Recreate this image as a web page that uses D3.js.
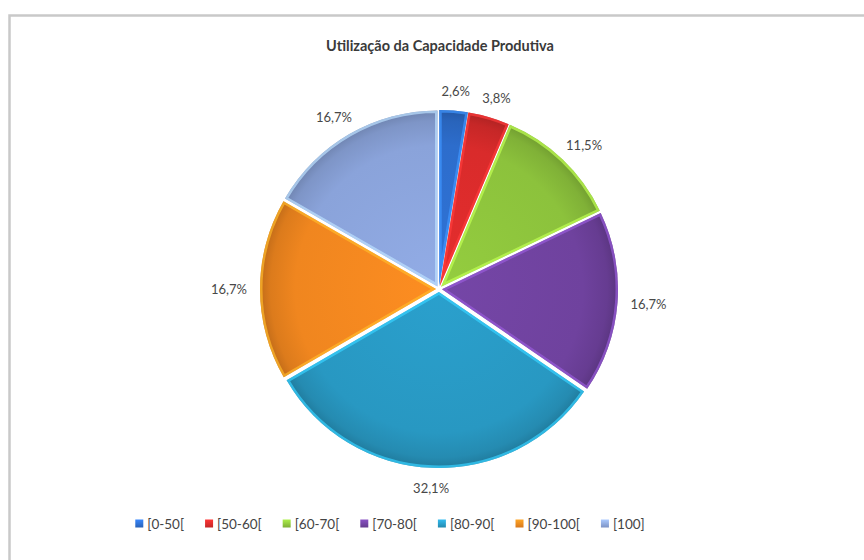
<!DOCTYPE html>
<html>
<head>
<meta charset="utf-8">
<script src="https://cdn.jsdelivr.net/npm/d3@7/dist/d3.min.js"></script>
<style>
  body { margin: 0; background: #fff; }
  svg { display: block; }
</style>
</head>
<body>
<svg id="chart" width="864" height="560"></svg>
<script>
// Capacity-utilisation bands and the share of companies in each band (%)
const categories = ["[0-50[", "[50-60[", "[60-70[", "[70-80[", "[80-90[", "[90-100[", "[100]"];
const shares = [2.6, 3.8, 11.5, 16.7, 32.1, 16.7, 16.7];
const sliceColors = ["#2d6dcc", "#d92b2b", "#8cc23c", "#6f429e", "#2898c2", "#f0861f", "#8aa3da"];
const chartTitle = "Utilização da Capacidade Produtiva";

const W = 864, H = 560;
const cx = 439, cy = 289, R = 176, explode = 3;
const fontFamily = "Lato, 'Open Sans', 'DejaVu Sans', sans-serif";

const svg = d3.select("#chart");
const defs = svg.append("defs");

// outer frame of the chart area
svg.append("rect")
  .attr("x", 9.5).attr("y", 15.5)
  .attr("width", W + 20).attr("height", H + 20)
  .attr("fill", "#fff")
  .attr("stroke", "#c9c9c9").attr("stroke-width", 2.5);

// title
svg.append("text")
  .attr("x", 440).attr("y", 51)
  .attr("text-anchor", "middle")
  .attr("font-family", fontFamily)
  .attr("font-weight", "bold")
  .attr("font-size", 14.5)
  .attr("fill", "#3a3a3a")
  .text(chartTitle);

const fmt = v => d3.format(".1f")(v).replace(".", ",") + "%";

const pie = d3.pie().sort(null).value(d => d)(shares);
const arc = d3.arc().innerRadius(0).outerRadius(R);

// per-slice gradients: brighter body, darker rim
sliceColors.forEach((c, i) => {
  const g = defs.append("radialGradient")
    .attr("id", "grad" + i)
    .attr("gradientUnits", "userSpaceOnUse")
    .attr("cx", 0).attr("cy", 0).attr("r", R);
  const base = d3.color(c);
  g.append("stop").attr("offset", "0%").attr("stop-color", base.brighter(0.15));
  g.append("stop").attr("offset", "80%").attr("stop-color", base);
  g.append("stop").attr("offset", "94%").attr("stop-color", base.darker(0.25));
  g.append("stop").attr("offset", "100%").attr("stop-color", base.darker(0.6));
});

const pieG = svg.append("g").attr("transform", `translate(${cx},${cy})`);

const slices = pieG.selectAll("g.slice")
  .data(pie)
  .join("g")
  .attr("class", "slice")
  .attr("transform", d => {
    const a = (d.startAngle + d.endAngle) / 2;
    return `translate(${Math.sin(a) * explode},${-Math.cos(a) * explode})`;
  });

slices.each(function (d, i) {
  const g = d3.select(this);
  const clipId = "clip" + i;
  defs.append("clipPath").attr("id", clipId)
    .append("path").attr("d", arc(d));
  g.append("path")
    .attr("d", arc(d))
    .attr("fill", `url(#grad${i})`);
  // bevel highlight along the slice edges
  g.append("path")
    .attr("d", arc(d))
    .attr("fill", "none")
    .attr("stroke", d3.color(sliceColors[i]).brighter(0.9))
    .attr("stroke-width", 5)
    .attr("stroke-opacity", 0.7)
    .attr("clip-path", `url(#${clipId})`);
});

// data labels just outside each slice
const labelPad = 13;
pieG.selectAll("text.lbl")
  .data(pie)
  .join("text")
  .attr("class", "lbl")
  .attr("font-family", fontFamily)
  .attr("font-size", 13)
  .attr("fill", "#484848")
  .attr("text-anchor", "middle")
  .attr("dominant-baseline", "central")
  .text(d => fmt(d.data))
  .each(function (d) {
    const a = (d.startAngle + d.endAngle) / 2;
    const ux = Math.sin(a), uy = -Math.cos(a);
    const w = this.getComputedTextLength(), h = 14;
    const r = R + explode + labelPad;
    d3.select(this)
      .attr("x", ux * r + ux * w / 2)
      .attr("y", uy * r + uy * h / 2);
  });

// legend along the bottom
const legend = svg.append("g");
const items = legend.selectAll("g.item")
  .data(categories)
  .join("g")
  .attr("class", "item");

items.each(function (c, i) {
  const g = d3.select(this);
  const gid = "lg" + i;
  const lg = defs.append("linearGradient").attr("id", gid)
    .attr("x1", 0).attr("y1", 0).attr("x2", 0).attr("y2", 1);
  lg.append("stop").attr("offset", "0%").attr("stop-color", d3.color(sliceColors[i]).brighter(0.6));
  lg.append("stop").attr("offset", "100%").attr("stop-color", d3.color(sliceColors[i]).darker(0.3));
  g.append("rect")
    .attr("x", 0).attr("y", -4.5)
    .attr("width", 8).attr("height", 8)
    .attr("fill", `url(#${gid})`);
  g.append("text")
    .attr("x", 12).attr("y", 0)
    .attr("dominant-baseline", "central")
    .attr("font-family", fontFamily)
    .attr("font-size", 13.5)
    .attr("fill", "#444")
    .text(c);
});

let xPos = 0;
const gap = 21;
items.each(function () {
  const w = this.getBBox().width;
  d3.select(this).attr("transform", `translate(${xPos},0)`);
  xPos += w + gap;
});
const totalW = xPos - gap;
legend.attr("transform", `translate(${390 - totalW / 2},524)`);
</script>
</body>
</html>
